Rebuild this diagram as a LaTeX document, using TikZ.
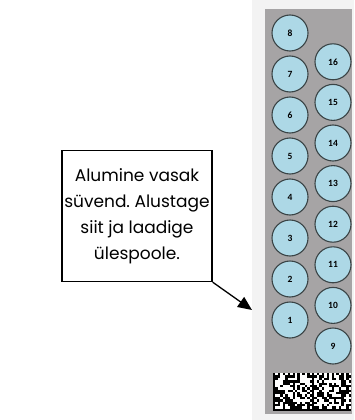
\documentclass[tikz,border=0pt]{standalone}
\usepackage{fontspec}
\setmainfont{Poppins}
\newfontfamily\numfont{Carlito}
\usetikzlibrary{arrows.meta}
\frenchspacing
\definecolor{panelgray}{HTML}{A6A4A5}
\definecolor{pagegray}{HTML}{F3F3F3}
\definecolor{padblue}{HTML}{ADD8E6}
\definecolor{rimgray}{HTML}{3A4446}
\tikzset{
  pad/.style={circle, draw=rimgray, line width=1.1pt, fill=padblue,
    minimum size=36pt, inner sep=0pt, font=\numfont\bfseries\fontsize{9.5}{10}\selectfont},
  callout/.style={draw=black, line width=1.3pt, fill=white, minimum width=150pt,
    minimum height=131pt, inner sep=0pt, align=center,
    font=\fontsize{17}{26}\selectfont},
  pointer/.style={line width=1.3pt, -{Triangle[length=14pt,width=12pt]}}
}
\begin{document}
\begin{tikzpicture}[x=1pt,y=-1pt]
\useasboundingbox (0,0) rectangle (354,420);
\fill[white] (0,0) rectangle (354,420);
% tray background
\fill[pagegray] (252,0) rectangle (354,420);
\fill[panelgray] (265,9) rectangle (352,414);
% bottom row of pads, 1..8
\foreach \i in {1,...,8} {
  \node[pad] (p\i) at (290,{320-41*(\i-1)}) {\i};
}
% top row of pads, 9..16
\foreach \i in {9,...,16} {
  \node[pad] (p\i) at (333,{346-40.6*(\i-9)}) {\i};
}
% two-dimensional code
\pgfmathsetseed{11}
\foreach \ox in {273,312} {
  \fill[white] (\ox,373) rectangle ++(39,38);
  \foreach \r in {0,...,15} {
    \foreach \c in {0,...,15} {
      \pgfmathsetmacro{\v}{rnd}
      \ifnum\c=0 \def\v{1}\fi
      \ifnum\r=15 \def\v{1}\fi
      \ifnum\r=0 \pgfmathsetmacro{\v}{mod(\c,2)==0 ? 1 : 0}\fi
      \ifnum\c=15 \pgfmathsetmacro{\v}{mod(\r,2)==1 ? 1 : 0}\fi
      \pgfmathparse{\v>0.5 ? 1 : 0}
      \ifnum\pgfmathresult=1
        \fill[black] ({\ox+\c*2.4375},{373+\r*2.375}) rectangle ++(2.4375,2.375);
      \fi
    }
  }
}
% instruction box and pointer
\node[callout] (note) at (137,216)
  {Alumine vasak\\süvend. Alustage\\siit ja laadige\\ülespoole.};
\coordinate (tip) at (252,310);
\draw[pointer] (note.south east) -- (tip);
\end{tikzpicture}
\end{document}
